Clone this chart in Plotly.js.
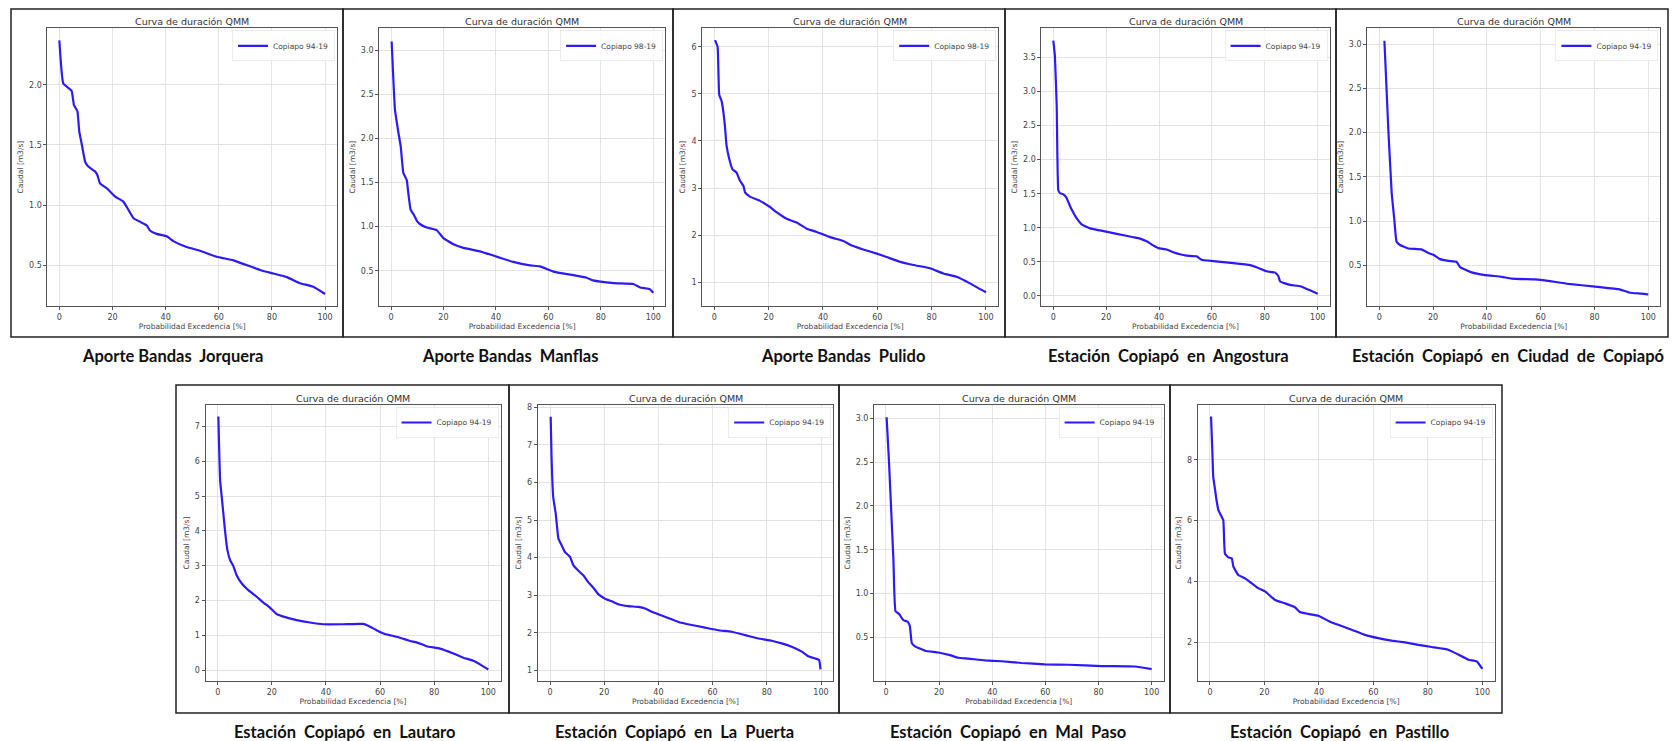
<!DOCTYPE html>
<html>
<head>
<meta charset="utf-8">
<script src="https://cdn.plot.ly/plotly-3.0.1.min.js"></script>
<style>html,body{margin:0;padding:0;background:#fff;}#chart{width:1673px;height:741px;}</style>
</head>
<body>
<div id="chart"></div>
<script>
// ---------------- DATA ----------------
const captions = [
  "Aporte Bandas  Jorquera",
  "Aporte Bandas  Manflas",
  "Aporte Bandas  Pulido",
  "Estación  Copiapó  en  Angostura",
  "Estación  Copiapó  en  Ciudad  de  Copiapó",
  "Estación  Copiapó  en  Lautaro",
  "Estación  Copiapó  en  La  Puerta",
  "Estación  Copiapó  en  Mal  Paso",
  "Estación  Copiapó  en  Pastillo"
];
const legendNames = ["Copiapo 94-19","Copiapo 98-19","Copiapo 98-19","Copiapo 94-19","Copiapo 94-19",
                     "Copiapo 94-19","Copiapo 94-19","Copiapo 94-19","Copiapo 94-19"];
const panelTitle = "Curva de duración QMM";
const xTitle = "Probabilidad Excedencia [%]";
const yTitle = "Caudal [m3/s]";
const xTicks = [0, 20, 40, 60, 80, 100];

const jorqueraX = [0,1.5,4.6,5.5,6.8,7.5,8.4,9.7,10.9,13.4,14.3,15.3,17.8,21,24,26,27.9,30.4,32.9,34,36.6,40.4,42.9,47.9,52.9,59.2,65.5,71.8,75.5,80.6,85.6,90.6,95.6,100];
const jorqueraY = [2.37,2.01,1.95,1.83,1.78,1.61,1.51,1.36,1.32,1.28,1.25,1.18,1.14,1.07,1.03,0.96,0.89,0.86,0.83,0.79,0.76,0.74,0.70,0.65,0.62,0.57,0.54,0.49,0.46,0.43,0.40,0.35,0.32,0.26];

const manflasX = [0.25,1.5,2.8,3.7,4.7,6,6.6,7.5,8.8,10,11,13.6,17.4,20,23.8,27.6,33.9,40.3,46.6,53,56.8,61.9,69.5,74.6,77,85,92.4,95,98.7,100];
const manflasY = [3.10,2.33,2.07,1.91,1.61,1.53,1.38,1.19,1.13,1.06,1.03,0.99,0.96,0.87,0.80,0.76,0.72,0.66,0.60,0.56,0.55,0.49,0.45,0.42,0.39,0.36,0.35,0.31,0.29,0.25];

const pulidoX = [0.25,1.2,1.8,2.7,3.3,3.9,4.5,5.5,6.7,8.2,9.4,10.7,11.3,13.1,16.8,20.5,22.9,26.6,30.3,34,37.7,42.6,47.5,50,54.8,59.8,63.4,68.3,73.3,79.4,84.3,89.2,94.1,100];
const pulidoY = [6.14,6.0,4.98,4.84,4.63,4.32,3.9,3.62,3.4,3.33,3.16,3.05,2.91,2.82,2.73,2.6,2.49,2.35,2.27,2.14,2.07,1.96,1.88,1.80,1.70,1.61,1.54,1.44,1.37,1.30,1.19,1.12,0.98,0.79];

const angosturaX = [0,0.6,1.3,1.9,2.5,3.8,5,6.3,7.6,8.8,10.7,13.9,17.7,24,30.3,32.8,35.3,37.8,39.7,42.9,45.4,47.9,50.4,54.2,56.1,60.5,68.1,74.4,76.9,80.7,83.9,85.1,85.8,89.6,93.4,97.1,100];
const angosturaY = [3.75,3.53,2.77,1.55,1.51,1.49,1.44,1.32,1.22,1.14,1.05,0.99,0.96,0.91,0.86,0.84,0.80,0.74,0.70,0.68,0.64,0.61,0.59,0.58,0.53,0.51,0.48,0.45,0.42,0.36,0.34,0.29,0.21,0.16,0.14,0.08,0.03];

const ciudadX = [1.9,3.3,4.6,5.6,6.4,7.7,10.8,15.7,18.2,20.1,22.6,25.7,28.7,30,31.2,34.3,39.3,45.5,49.2,57.9,61.6,70.3,80.2,88.8,90.1,93.2,97.5,100];
const ciudadY = [3.04,2.07,1.32,1.01,0.77,0.73,0.69,0.68,0.64,0.62,0.57,0.55,0.54,0.48,0.46,0.42,0.39,0.37,0.35,0.34,0.33,0.29,0.26,0.23,0.22,0.19,0.18,0.17];

const lautaroX = [0.25,0.9,1.5,2.1,2.7,3.6,4.6,5.8,7,8.9,11.3,14.4,16.9,19.3,21.8,24.3,29.2,34.1,39,46.4,53.8,56.3,58.7,61.8,66.1,71.1,73.5,77.2,82.1,87.1,90.8,94.5,97.5,100];
const lautaroY = [7.29,5.46,4.98,4.5,4.02,3.45,3.16,2.99,2.73,2.49,2.3,2.11,1.94,1.80,1.61,1.54,1.44,1.37,1.32,1.32,1.33,1.25,1.15,1.04,0.96,0.84,0.80,0.69,0.62,0.48,0.36,0.27,0.14,0.02];

const puertaX = [0.25,0.6,1.2,2.1,3.1,4.3,5.5,7.4,8.6,10.5,12.3,14.1,16,17.8,20.3,22.8,25.2,28.9,32.6,35.1,37.5,42.4,47.4,52.3,57.2,62.1,67,72,76.9,81.8,85.5,89.2,92.9,95.3,97.8,99.3,99.8];
const puertaY = [7.75,6.6,5.6,5.18,4.51,4.33,4.15,4.02,3.8,3.65,3.53,3.35,3.2,3.03,2.91,2.84,2.76,2.71,2.69,2.65,2.56,2.43,2.29,2.21,2.14,2.07,2.03,1.94,1.85,1.79,1.72,1.63,1.50,1.38,1.32,1.28,1.03];

const malPasoX = [0.25,1.1,1.9,2.8,3.6,4.9,6.5,8.2,9,9.7,10.9,14.7,19.7,24.1,27.2,31,37.3,43.5,51.1,59.8,68.6,81.2,93.7,100];
const malPasoY = [3.01,2.53,2.0,1.39,0.80,0.77,0.70,0.68,0.63,0.44,0.40,0.35,0.33,0.30,0.27,0.26,0.24,0.23,0.21,0.195,0.19,0.175,0.17,0.14];

const pastilloX = [0.4,0.9,1.2,1.8,2.4,3.1,4.3,4.9,5.5,6.7,8,8.6,10.4,12.9,15.3,17.7,20.2,23.9,27.5,31.2,33,36.1,39.8,43.5,47.1,52,56.9,61.8,66.7,71.6,76.5,81.4,87.5,91.2,94.9,97.9,100];
const pastilloY = [9.43,8.22,7.45,7.07,6.68,6.35,6.13,6.02,4.92,4.79,4.76,4.49,4.21,4.1,3.94,3.78,3.67,3.39,3.28,3.15,2.99,2.93,2.87,2.70,2.57,2.41,2.24,2.13,2.05,1.99,1.91,1.84,1.75,1.59,1.42,1.37,1.12];

const seriesX = [jorqueraX, manflasX, pulidoX, angosturaX, ciudadX, lautaroX, puertaX, malPasoX, pastilloX];
const seriesY = [jorqueraY, manflasY, pulidoY, angosturaY, ciudadY, lautaroY, puertaY, malPasoY, pastilloY];

// ---------------- LAYOUT GEOMETRY (pixels) ----------------
const W = 1673, H = 741;
const geo = [
  {l:47.4,  r:337,    t:28.3, b:306, yr:[0.16,2.47],  dt:0.5, fmt:'.1f'},
  {l:379.2, r:665.1,  t:28.3, b:306, yr:[0.10,3.25],  dt:0.5, fmt:'.1f'},
  {l:702.1, r:998.2,  t:28.3, b:306, yr:[0.5,6.39],   dt:1,   fmt:'d'},
  {l:1041.4,r:1329.6, t:28.3, b:306, yr:[-0.15,3.93], dt:0.5, fmt:'.1f'},
  {l:1367.2,r:1660.4, t:28.3, b:306, yr:[0.04,3.18],  dt:0.5, fmt:'.1f'},
  {l:205.5, r:500.5,  t:405,  b:681, yr:[-0.31,7.62], dt:1,   fmt:'d'},
  {l:537.8, r:833.2,  t:405,  b:681, yr:[0.72,8.06],  dt:1,   fmt:'d'},
  {l:874,   r:1163.6, t:405,  b:681, yr:[0.005,3.15], dt:0.5, fmt:'.1f'},
  {l:1197.7,r:1494.6, t:405,  b:681, yr:[0.72,9.81],  dt:2,   fmt:'d'}
];
const frames = [
  [11,343,9,337],[343,673,9,337],[673,1005,9,337],[1005,1336,9,337],[1336,1668,9,337],
  [176,509,385,713],[509,839,385,713],[839,1170,385,713],[1170,1502,385,713]
];
const captionPos = [[172,356],[510,356],[843,356],[1168,356],[1508,356],[344,732],[674,732],[1008,732],[1339,732]];

const fx = v => v / W;
const fy = v => 1 - v / H;
const FONT = "DejaVu Sans, sans-serif";

const traces = [];
const layout = {
  width: W, height: H,
  margin: {l:0, r:0, t:0, b:0},
  paper_bgcolor: '#ffffff',
  plot_bgcolor: '#ffffff',
  showlegend: true,
  font: {family: FONT, color: '#333'},
  annotations: [],
  shapes: []
};

geo.forEach((g, i) => {
  const n = i === 0 ? '' : String(i + 1);
  const lg = 'legend' + n;
  traces.push({
    type: 'scatter', mode: 'lines',
    x: seriesX[i], y: seriesY[i],
    name: legendNames[i],
    xaxis: 'x' + n, yaxis: 'y' + n,
    legend: lg,
    line: {color: 'rgb(45,25,250)', width: 2.2, shape: 'spline', smoothing: 0.35},
    hoverinfo: 'x+y'
  });
  layout['xaxis' + n] = {
    domain: [fx(g.l), fx(g.r)], anchor: 'y' + n,
    range: [-4.5, 104.5], tickvals: xTicks,
    showgrid: true, gridcolor: '#e3e3e3', gridwidth: 1,
    zeroline: false, showline: true, mirror: true, linecolor: '#555', linewidth: 1,
    ticks: 'outside', ticklen: 3, tickcolor: '#555',
    tickfont: {size: 8, family: FONT, color: '#444'},
    automargin: false,
    title: {text: xTitle, font: {size: 7.5, family: FONT, color: '#444'}, standoff: 3}
  };
  layout['yaxis' + n] = {
    domain: [fy(g.b), fy(g.t)], anchor: 'x' + n,
    range: g.yr, dtick: g.dt, tick0: 0, tickformat: g.fmt,
    showgrid: true, gridcolor: '#e3e3e3', gridwidth: 1,
    zeroline: false, showline: true, mirror: true, linecolor: '#555', linewidth: 1,
    ticks: 'outside', ticklen: 3, tickcolor: '#555',
    tickfont: {size: 8, family: FONT, color: '#444'},
    automargin: false,
    title: {text: yTitle, font: {size: 7.5, family: FONT, color: '#444'}, standoff: 4}
  };
  layout[lg] = {
    x: fx(g.r - 2), y: fy(g.t + 2), xanchor: 'right', yanchor: 'top',
    bgcolor: 'rgba(255,255,255,0.85)', bordercolor: '#ececec', borderwidth: 1,
    font: {size: 7.5, family: FONT, color: '#444'},
    itemwidth: 30, tracegroupgap: 0
  };
  layout.annotations.push({
    text: panelTitle, xref: 'paper', yref: 'paper',
    x: fx((g.l + g.r) / 2), y: fy(g.t - 7), xanchor: 'center', yanchor: 'middle',
    showarrow: false, font: {size: 9.5, family: FONT, color: '#333'}
  });
  layout.annotations.push({
    text: '<b>' + captions[i].replace(/  /g, ' \u00a0') + '</b>', xref: 'paper', yref: 'paper',
    x: fx(captionPos[i][0]), y: fy(captionPos[i][1]), xanchor: 'center', yanchor: 'middle',
    showarrow: false, font: {size: 16.5, family: 'Lato, "Open Sans", sans-serif', color: '#111'}
  });
  const f = frames[i];
  layout.shapes.push({
    type: 'rect', xref: 'paper', yref: 'paper',
    x0: fx(f[0]), x1: fx(f[1]), y0: fy(f[3]), y1: fy(f[2]),
    line: {color: '#222', width: 1.5}, fillcolor: 'rgba(0,0,0,0)', layer: 'below'
  });
});

Plotly.newPlot('chart', traces, layout, {displayModeBar: false, staticPlot: true});
</script>
</body>
</html>
